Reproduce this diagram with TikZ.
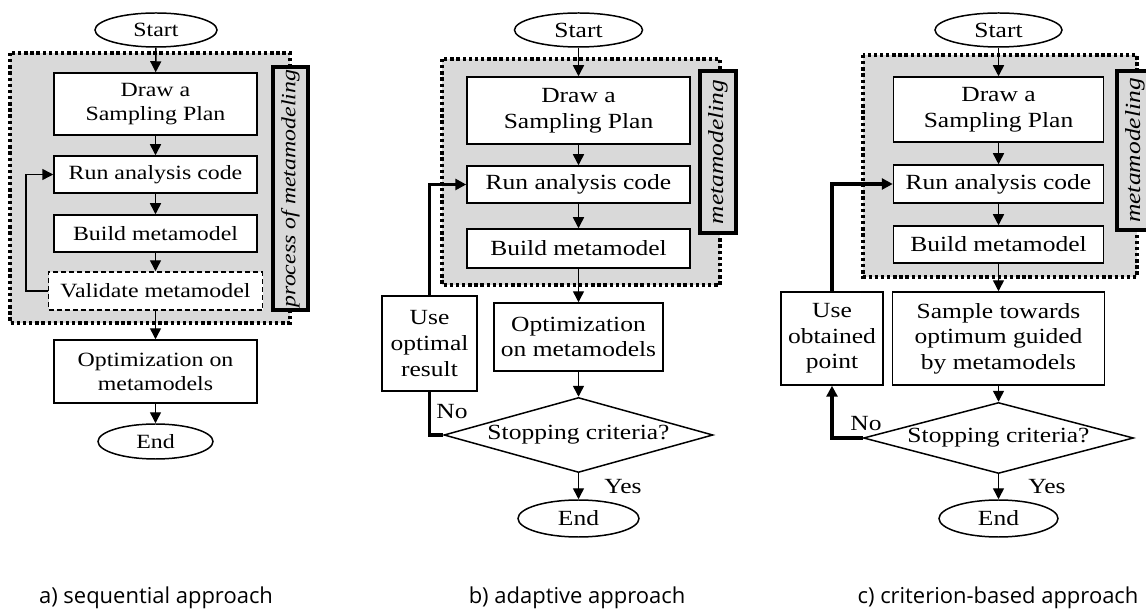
\documentclass[tikz,border=0pt]{standalone}
\usepackage{fontspec}
\setmainfont{Liberation Serif}[FakeStretch=1.18]
\newfontfamily\capfont{Open Sans}
\usetikzlibrary{shapes.geometric,arrows.meta}
\pgfdeclarelayer{bglayer}
\pgfdeclarelayer{edgelayer}
\pgfdeclarelayer{nodelayer}
\pgfsetlayers{bglayer,edgelayer,nodelayer,main}
\definecolor{boxgray}{RGB}{217,217,217}
\tikzset{font=\fontsize{11.5}{13.7}\selectfont}
\tikzstyle{none}=[inner sep=0pt]
\tikzstyle{box}=[rectangle,draw,fill=white,line width=0.85pt,align=center,inner sep=0pt]
\tikzstyle{term}=[ellipse,draw,fill=white,line width=0.85pt,inner sep=0pt]
\tikzstyle{test}=[diamond,draw,fill=white,line width=0.85pt,inner sep=0pt,aspect=3.6]
\tikzstyle{check}=[box,dash pattern=on 0.1cm off 0.06cm]
\tikzstyle{side}=[rectangle,draw,fill=boxgray,line width=2pt,rotate=90,inner sep=0pt]
\tikzstyle{group}=[fill=boxgray,draw,line width=1.9pt,dash pattern=on 1.9pt off 1.6pt]
\tikzstyle{flow}=[line width=0.85pt,-{Triangle[length=0.22cm,width=0.22cm]}]
\tikzstyle{back}=[line width=1.9pt]
\tikzstyle{caption}=[inner sep=0pt,font=\capfont\fontsize{12.5}{15}\selectfont]

\begin{document}
\begin{tikzpicture}
	\useasboundingbox (0, 0) rectangle (22.92, -12.28);
	\begin{pgfonlayer}{bglayer}
		\draw [style=group] (0.2, -1.06) rectangle (5.8, -6.46);
		\draw [style=group] (8.84, -1.18) rectangle (14.4, -5.7);
		\draw [style=group] (17.26, -1.1) rectangle (22.74, -5.54);
	\end{pgfonlayer}
	\begin{pgfonlayer}{nodelayer}
		% a) sequential
		\node [style=term, minimum width=2.44cm, minimum height=0.68cm] (a0) at (3.12, -0.6) {Start};
		\node [style=box, minimum width=4.06cm, minimum height=1.24cm] (a1) at (3.11, -2.08) {Draw a\\Sampling Plan};
		\node [style=box, minimum width=4.06cm, minimum height=0.74cm] (a2) at (3.11, -3.49) {Run analysis code};
		\node [style=box, minimum width=4.06cm, minimum height=0.74cm] (a3) at (3.11, -4.67) {Build metamodel};
		\node [style=check, minimum width=4.28cm, minimum height=0.76cm] (a4) at (3.11, -5.82) {Validate metamodel};
		\node [style=side, minimum width=4.86cm, minimum height=0.7cm] (a7) at (5.81, -3.77) {\textit{process of metamodeling}};
		\node [style=box, minimum width=4.06cm, minimum height=1.26cm] (a5) at (3.11, -7.43) {Optimization on\\metamodels};
		\node [style=term, minimum width=2.3cm, minimum height=0.7cm] (a6) at (3.11, -8.83) {End};
		\node [style=caption] (a8) at (3.12, -11.96) {a) sequential approach};
		% b) adaptive
		\begin{scope}[font=\fontsize{12.3}{14.6}\selectfont]
		\node [style=term, minimum width=2.56cm, minimum height=0.68cm] (b0) at (11.57, -0.6) {Start};
		\node [style=box, minimum width=4.46cm, minimum height=1.34cm] (b1) at (11.57, -2.21) {Draw a\\Sampling Plan};
		\node [style=box, minimum width=4.46cm, minimum height=0.74cm] (b2) at (11.57, -3.69) {Run analysis code};
		\node [style=box, minimum width=4.46cm, minimum height=0.78cm] (b3) at (11.57, -4.97) {Build metamodel};
		\node [style=side, minimum width=3.24cm, minimum height=0.72cm] (b8) at (14.36, -3.04) {\textit{metamodeling}};
		\node [style=box, minimum width=1.9cm, minimum height=1.9cm] (b4) at (8.59, -6.87) {Use\\optimal\\result};
		\node [style=box, minimum width=3.38cm, minimum height=1.36cm] (b5) at (11.57, -6.74) {Optimization\\on metamodels};
		\node [style=test, minimum width=5.38cm, minimum height=1.5cm] (b6) at (11.57, -8.7) {Stopping criteria?};
		\node [style=term, minimum width=2.42cm, minimum height=0.74cm] (b7) at (11.57, -10.37) {End};
		\node [style=none] (b9) at (9.04, -8.24) {No};
		\node [style=none] (b10) at (12.46, -9.74) {Yes};
		\end{scope}
		\node [style=caption] (b11) at (11.54, -11.96) {b) adaptive approach};
		% c) criterion-based
		\begin{scope}[font=\fontsize{12.3}{14.6}\selectfont]
		\node [style=term, minimum width=2.54cm, minimum height=0.68cm] (c0) at (19.97, -0.6) {Start};
		\node [style=box, minimum width=4.2cm, minimum height=1.3cm] (c1) at (19.97, -2.19) {Draw a\\Sampling Plan};
		\node [style=box, minimum width=4.2cm, minimum height=0.76cm] (c2) at (19.97, -3.68) {Run analysis code};
		\node [style=box, minimum width=4.2cm, minimum height=0.74cm] (c3) at (19.97, -4.89) {Build metamodel};
		\node [style=side, minimum width=3.18cm, minimum height=0.72cm] (c8) at (22.7, -3.01) {\textit{metamodeling}};
		\node [style=box, minimum width=2.04cm, minimum height=1.86cm] (c4) at (16.64, -6.77) {Use\\obtained\\point};
		\node [style=box, minimum width=4.24cm, minimum height=1.86cm] (c5) at (19.97, -6.77) {Sample towards\\optimum guided\\by metamodels};
		\node [style=test, minimum width=5.4cm, minimum height=1.42cm] (c6) at (19.97, -8.76) {Stopping criteria?};
		\node [style=term, minimum width=2.38cm, minimum height=0.74cm] (c7) at (19.97, -10.37) {End};
		\node [style=none] (c9) at (17.32, -8.48) {No};
		\node [style=none] (c10) at (20.94, -9.74) {Yes};
		\end{scope}
		\node [style=caption] (c11) at (19.96, -11.96) {c) criterion-based approach};
	\end{pgfonlayer}
	\begin{pgfonlayer}{edgelayer}
		\draw [style=flow] (a0) to (a1);
		\draw [style=flow] (a1) to (a2);
		\draw [style=flow] (a2) to (a3);
		\draw [style=flow] (a3) to (a4);
		\draw [style=flow] (a4) to (a5);
		\draw [style=flow] (a5) to (a6);
		\draw [style=flow] (a4.west) -- ++(-0.44, 0) |- (a2.west);
		\draw [style=flow] (b0) to (b1);
		\draw [style=flow] (b1) to (b2);
		\draw [style=flow] (b2) to (b3);
		\draw [style=flow] (b3) to (b5);
		\draw [style=flow] (b5) to (b6);
		\draw [style=flow] (b6) to (b7);
		\draw [style=back] (b6.west) -| (b4.south);
		\draw [style=flow, line width=1.9pt] (b4.north) |- (b2.west);
		\draw [style=flow] (c0) to (c1);
		\draw [style=flow] (c1) to (c2);
		\draw [style=flow] (c2) to (c3);
		\draw [style=flow] (c3) to (c5);
		\draw [style=flow] (c5) to (c6);
		\draw [style=flow] (c6) to (c7);
		\draw [style=flow, line width=1.9pt] (c6.west) -| (c4.south);
		\draw [style=flow, line width=1.9pt] (c4.north) |- (c2.west);
	\end{pgfonlayer}
\end{tikzpicture}
\end{document}
